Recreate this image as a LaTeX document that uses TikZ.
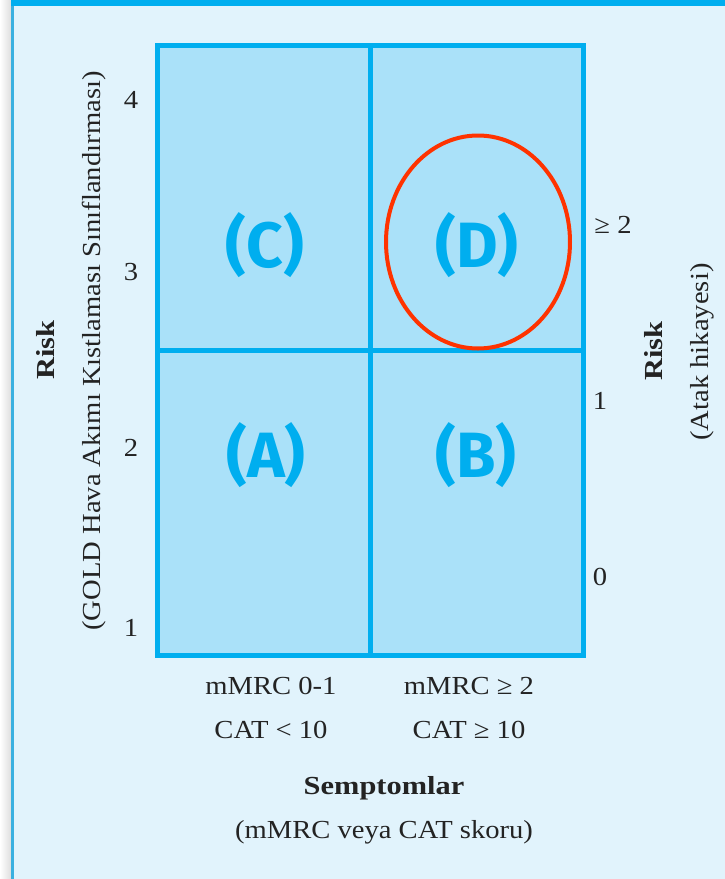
\documentclass[tikz,border=0pt]{standalone}
\usepackage{fontspec}
\setmainfont{Liberation Serif}[FakeStretch=1.1]
\newfontfamily\boldserif{Liberation Serif}[FakeStretch=1.17]
\newfontfamily\letterfont{Fira Sans}
\usetikzlibrary{shapes.geometric}
\definecolor{panelbg}{RGB}{225,243,252}
\definecolor{gridblue}{RGB}{0,174,239}
\definecolor{cellfill}{RGB}{170,225,249}
\definecolor{edgeblue}{RGB}{58,176,224}
\definecolor{markred}{RGB}{255,51,0}
\definecolor{txt}{RGB}{35,35,35}
\tikzset{
  cell/.style={draw=gridblue, fill=cellfill, line width=5pt, minimum width=213pt, minimum height=305pt, inner sep=0pt, outer sep=0pt},
  letter/.style={text=gridblue, inner sep=0pt, font=\letterfont\bfseries\fontsize{64}{64}\selectfont},
  lab/.style={text=txt, inner sep=0pt, font=\fontsize{26}{30}\selectfont},
  boldlab/.style={text=txt, inner sep=0pt, font=\boldserif\bfseries\fontsize{26}{30}\selectfont}
}
\begin{document}
\begin{tikzpicture}[x=1pt,y=-1pt]
\useasboundingbox (0,0) rectangle (725,879);
\fill[panelbg] (0,0) rectangle (725,879);
\shade[left color=white, right color=black!13] (0,0) rectangle (11,879);
\fill[edgeblue] (11,0) rectangle (13.5,879);
\fill[gridblue] (11,0) rectangle (725,6);

% cells
\node[cell] (cC) at (263.5,197.5) {};
\node[cell] (cD) at (476.5,197.5) {};
\node[cell] (cA) at (263.5,503) {};
\node[cell] (cB) at (476.5,503) {};

% letters
\node[letter] (lC) at (265,245) {(C)};
\node[letter] (lD) at (477,245) {(D)};
\node[letter] (lA) at (266,455) {(A)};
\node[letter] (lB) at (476,455) {(B)};

% red ellipse
\node[ellipse, draw=markred, line width=4pt, minimum width=184pt, minimum height=213pt, inner sep=0pt] (ring) at (478,242) {};

% left axis
\node[lab] (y4) at (131,100) {4};
\node[lab] (y3) at (131,272) {3};
\node[lab] (y2) at (131,448) {2};
\node[lab] (y1) at (131,628) {1};
\node[boldlab, rotate=90] (riskL) at (46,350) {Risk};
\node[lab, rotate=90] (goldL) at (94,351) {(GOLD Hava Akımı Kıstlaması Sınıflandırması)};

% right axis
\node[lab] (r2) at (613,225) {≥ 2};
\node[lab] (r1) at (600,401) {1};
\node[lab] (r0) at (600,577) {0};
\node[boldlab, rotate=90] (riskR) at (654,351) {Risk};
\node[lab, rotate=90] (atak) at (702,352) {(Atak hikayesi)};

% bottom axis
\node[lab] (x1a) at (271,686) {mMRC 0-1};
\node[lab] (x1b) at (271,730) {CAT < 10};
\node[lab] (x2a) at (469,686) {mMRC ≥ 2};
\node[lab] (x2b) at (469,730) {CAT ≥ 10};
\node[boldlab] (semp) at (384,788) {Semptomlar};
\node[lab] (skor) at (384,832) {(mMRC veya CAT skoru)};
\end{tikzpicture}
\end{document}
